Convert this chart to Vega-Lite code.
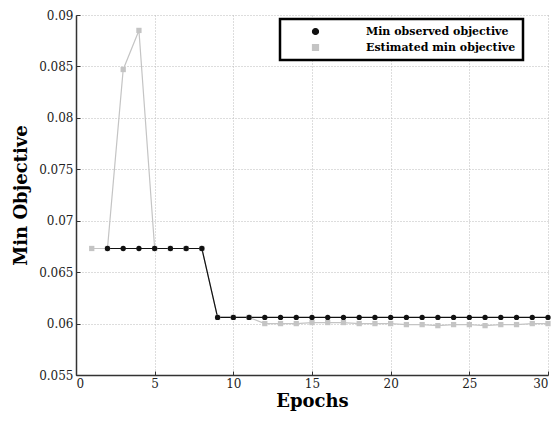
{
  "$schema": "https://vega.github.io/schema/vega-lite/v6.json",
  "width": 472,
  "height": 360,
  "autosize": {"type": "none"},
  "padding": {"left": 76, "top": 15, "right": 8, "bottom": 48},
  "background": "white",
  "data": {
    "values": [
      {"epoch": 1, "series": "Estimated min objective", "value": 0.0673},
      {"epoch": 2, "series": "Estimated min objective", "value": 0.0673},
      {"epoch": 3, "series": "Estimated min objective", "value": 0.0847},
      {"epoch": 4, "series": "Estimated min objective", "value": 0.0885},
      {"epoch": 5, "series": "Estimated min objective", "value": 0.0673},
      {"epoch": 6, "series": "Estimated min objective", "value": 0.0673},
      {"epoch": 7, "series": "Estimated min objective", "value": 0.0673},
      {"epoch": 8, "series": "Estimated min objective", "value": 0.0673},
      {"epoch": 9, "series": "Estimated min objective", "value": 0.0606},
      {"epoch": 10, "series": "Estimated min objective", "value": 0.0606},
      {"epoch": 11, "series": "Estimated min objective", "value": 0.0606},
      {"epoch": 12, "series": "Estimated min objective", "value": 0.0600},
      {"epoch": 13, "series": "Estimated min objective", "value": 0.0600},
      {"epoch": 14, "series": "Estimated min objective", "value": 0.0600},
      {"epoch": 15, "series": "Estimated min objective", "value": 0.0601},
      {"epoch": 16, "series": "Estimated min objective", "value": 0.0601},
      {"epoch": 17, "series": "Estimated min objective", "value": 0.0601},
      {"epoch": 18, "series": "Estimated min objective", "value": 0.0600},
      {"epoch": 19, "series": "Estimated min objective", "value": 0.0600},
      {"epoch": 20, "series": "Estimated min objective", "value": 0.0600},
      {"epoch": 21, "series": "Estimated min objective", "value": 0.0599},
      {"epoch": 22, "series": "Estimated min objective", "value": 0.0599},
      {"epoch": 23, "series": "Estimated min objective", "value": 0.0598},
      {"epoch": 24, "series": "Estimated min objective", "value": 0.0599},
      {"epoch": 25, "series": "Estimated min objective", "value": 0.0599},
      {"epoch": 26, "series": "Estimated min objective", "value": 0.0598},
      {"epoch": 27, "series": "Estimated min objective", "value": 0.0599},
      {"epoch": 28, "series": "Estimated min objective", "value": 0.0599},
      {"epoch": 29, "series": "Estimated min objective", "value": 0.0600},
      {"epoch": 30, "series": "Estimated min objective", "value": 0.0600},
      {"epoch": 2, "series": "Min observed objective", "value": 0.0673},
      {"epoch": 3, "series": "Min observed objective", "value": 0.0673},
      {"epoch": 4, "series": "Min observed objective", "value": 0.0673},
      {"epoch": 5, "series": "Min observed objective", "value": 0.0673},
      {"epoch": 6, "series": "Min observed objective", "value": 0.0673},
      {"epoch": 7, "series": "Min observed objective", "value": 0.0673},
      {"epoch": 8, "series": "Min observed objective", "value": 0.0673},
      {"epoch": 9, "series": "Min observed objective", "value": 0.0606},
      {"epoch": 10, "series": "Min observed objective", "value": 0.0606},
      {"epoch": 11, "series": "Min observed objective", "value": 0.0606},
      {"epoch": 12, "series": "Min observed objective", "value": 0.0606},
      {"epoch": 13, "series": "Min observed objective", "value": 0.0606},
      {"epoch": 14, "series": "Min observed objective", "value": 0.0606},
      {"epoch": 15, "series": "Min observed objective", "value": 0.0606},
      {"epoch": 16, "series": "Min observed objective", "value": 0.0606},
      {"epoch": 17, "series": "Min observed objective", "value": 0.0606},
      {"epoch": 18, "series": "Min observed objective", "value": 0.0606},
      {"epoch": 19, "series": "Min observed objective", "value": 0.0606},
      {"epoch": 20, "series": "Min observed objective", "value": 0.0606},
      {"epoch": 21, "series": "Min observed objective", "value": 0.0606},
      {"epoch": 22, "series": "Min observed objective", "value": 0.0606},
      {"epoch": 23, "series": "Min observed objective", "value": 0.0606},
      {"epoch": 24, "series": "Min observed objective", "value": 0.0606},
      {"epoch": 25, "series": "Min observed objective", "value": 0.0606},
      {"epoch": 26, "series": "Min observed objective", "value": 0.0606},
      {"epoch": 27, "series": "Min observed objective", "value": 0.0606},
      {"epoch": 28, "series": "Min observed objective", "value": 0.0606},
      {"epoch": 29, "series": "Min observed objective", "value": 0.0606},
      {"epoch": 30, "series": "Min observed objective", "value": 0.0606}
    ]
  },
  "encoding": {
    "x": {
      "field": "epoch", "type": "quantitative", "title": "Epochs",
      "scale": {"domain": [0, 30], "nice": false},
      "axis": {"values": [0, 5, 10, 15, 20, 25, 30], "titlePadding": 3}
    },
    "y": {
      "field": "value", "type": "quantitative", "title": "Min Objective",
      "scale": {"domain": [0.055, 0.09], "nice": false, "zero": false},
      "axis": {"values": [0.055, 0.06, 0.065, 0.07, 0.075, 0.08, 0.085, 0.09], "format": ".3~f", "titlePadding": 8}
    },
    "color": {
      "field": "series", "type": "nominal",
      "scale": {"domain": ["Min observed objective", "Estimated min objective"], "range": ["#111111", "#c4c4c4"]},
      "legend": {"symbolType": "circle"}
    }
  },
  "layer": [
    {
      "mark": {"type": "line", "strokeWidth": 1.2},
      "encoding": {"detail": {"field": "series"}, "order": {"field": "epoch"}}
    },
    {
      "mark": {"type": "point", "filled": true, "size": 28, "opacity": 1},
      "encoding": {
        "shape": {
          "field": "series", "type": "nominal", "legend": null,
          "scale": {"domain": ["Min observed objective", "Estimated min objective"], "range": ["circle", "square"]}
        }
      }
    }
  ],
  "config": {
    "view": {"stroke": null},
    "font": "DejaVu Serif",
    "axis": {
      "labelFont": "DejaVu Serif", "labelFontSize": 12, "labelColor": "#222222",
      "titleFont": "DejaVu Serif", "titleFontSize": 18, "titleFontWeight": "bold", "titleColor": "#000000",
      "gridColor": "#bbbbbb", "gridDash": [1, 2], "gridWidth": 1,
      "domainColor": "#333333", "domainWidth": 1.5,
      "tickColor": "#333333", "tickSize": -4, "labelPadding": 7
    },
    "legend": {
      "orient": "none", "legendX": 204, "legendY": 4,
      "title": null,
      "strokeColor": "#000000", "strokeWidth": 2.5, "fillColor": "white",
      "padding": 7, "rowPadding": 4,
      "labelFont": "DejaVu Serif", "labelFontSize": 11, "labelFontWeight": "bold", "labelColor": "#000000",
      "labelLimit": 300,
      "symbolSize": 36, "symbolOffset": 23, "labelOffset": 45,
      "symbolStrokeWidth": 1.2
    }
  }
}
